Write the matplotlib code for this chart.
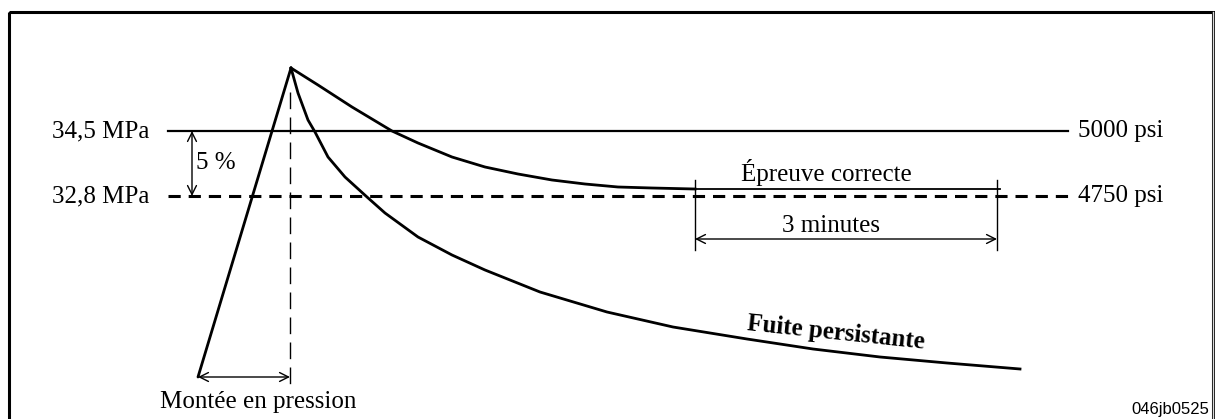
#!/usr/bin/env python3
"""
Épreuve de pression - schéma 046jb0525
"""

import matplotlib
matplotlib.use('Agg')
import matplotlib.pyplot as plt
from matplotlib.patches import Rectangle

# Coordinates (pixel space, y downward)
rise_x = [198, 291]
rise_y = [377, 68]

good_x = [291, 318, 352, 392, 418, 452, 485, 518, 552, 585, 618, 652, 695]
good_y = [68, 85, 107, 131, 143, 157, 167, 174, 180, 184, 187, 188, 189]

leak_x = [291, 298, 308, 315, 328, 345, 367, 385, 418, 452, 485, 540, 607,
          673, 747, 813, 880, 947, 1020]
leak_y = [68, 93, 120, 132, 157, 177, 197, 213, 237, 255, 270, 292, 312,
          327, 339, 349, 357, 363, 369]

level_high_y = 131
level_low_y = 196
level_x = [168, 1068]
correct_x = [695, 1000]
correct_y = 189
tick_x = [695, 997]
tick_y = [180, 250]
minutes_arrow_y = 239
peak_x = 290
ramp_arrow_y = 377
pct_arrow_x = 192

left_labels = ['34,5 MPa', '32,8 MPa']
right_labels = ['5000 psi', '4750 psi']

SERIF = 'Liberation Serif'
FS = 18

fig = plt.figure(figsize=(12.15, 4.19), dpi=100)
ax = fig.add_axes([0, 0, 1, 1])
ax.set_xlim(0, 1215)
ax.set_ylim(419, 0)
ax.axis('off')

# cadre
ax.add_patch(Rectangle((9, 12), 1204, 420, fill=False, lw=2.2, ec='black'))
ax.plot([1213, 1213], [12, 419], color='#d8d8d8', lw=1)

# niveaux
ax.plot(level_x, [level_high_y] * 2, color='black', lw=1.6)
ax.plot(level_x, [level_low_y] * 2, color='black', lw=2.2, dashes=(4, 2.6))

# courbes
ax.plot(rise_x, rise_y, color='black', lw=2, solid_capstyle='round')
ax.plot(good_x, good_y, color='black', lw=2, solid_joinstyle='round')
ax.plot(correct_x, [correct_y] * 2, color='black', lw=1.3)
ax.plot(leak_x, leak_y, color='black', lw=2, solid_joinstyle='round')

# repère vertical du pic
ax.plot([peak_x, peak_x], [92, 387], color='black', lw=1, dashes=(12, 6))

# repères 3 minutes
for tx in tick_x:
    ax.plot([tx, tx], tick_y, color='black', lw=1)

arrow = dict(arrowstyle='<->', color='black', lw=1, shrinkA=0, shrinkB=0,
             mutation_scale=16)
ax.annotate('', xy=(tick_x[0], minutes_arrow_y), xytext=(tick_x[1], minutes_arrow_y),
            arrowprops=arrow)
ax.annotate('', xy=(rise_x[0], ramp_arrow_y), xytext=(peak_x, ramp_arrow_y),
            arrowprops=arrow)
ax.annotate('', xy=(pct_arrow_x, level_high_y), xytext=(pct_arrow_x, level_low_y),
            arrowprops=arrow)

# textes
for lbl, yy in zip(left_labels, [level_high_y, level_low_y]):
    ax.text(149, yy, lbl, ha='right', va='center', family=SERIF, fontsize=FS)
for lbl, yy in zip(right_labels, [level_high_y, level_low_y]):
    ax.text(1078, yy, lbl, ha='left', va='center', family=SERIF, fontsize=FS)

ax.text(196, 163, '5 %', ha='left', va='center', family=SERIF, fontsize=FS)
ax.text(826, 172, 'Épreuve correcte', ha='center', va='center', family=SERIF, fontsize=FS)
ax.text(831, 226, '3 minutes', ha='center', va='center', family=SERIF, fontsize=FS)
ax.text(258, 402, 'Montée en pression', ha='center', va='center', family=SERIF, fontsize=FS)
ax.text(836, 333, 'Fuite persistante', ha='center', va='center', family=SERIF,
        fontsize=FS, fontweight='bold', rotation=-6, rotation_mode='anchor')
ax.text(1209, 409, '046jb0525', ha='right', va='center', family='Liberation Sans',
        fontsize=12)

fig.savefig('out.png', dpi=100)
plt.close(fig)
